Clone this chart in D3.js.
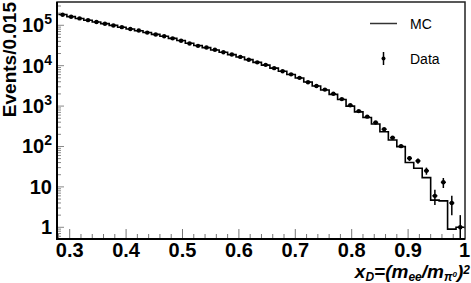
<!DOCTYPE html>
<html>
<head>
<meta charset="utf-8">
<script src="https://cdn.jsdelivr.net/npm/d3@7"></script>
<style>
  body { margin: 0; background: #fff; }
  svg { display: block; }
  text { font-family: "Liberation Sans", Arial, sans-serif; fill: #000; }
</style>
</head>
<body>
<div id="container"></div>
<script>
let w = 471;
let h = 283;

// histogram binning: 48 bins of 0.015 starting at 0.28
let binStart = 0.28;
let binWidth = 0.015;

// data counts per bin
let dataCounts = [183000, 163000, 148000, 134000, 121000, 109000, 99000, 90000, 81000, 74000,
  66000, 59000, 53500, 47500, 41500, 35500, 31000, 28100, 24900, 21500,
  18900, 16500, 14000, 12100, 10500, 8700, 7300, 6100, 5000, 3900,
  3150, 2560, 2020, 1490, 1050, 752, 547, 393, 268, 165,
  102, 51, 44, 25, 6, 13, 4, 1];

// MC expectation per bin
let mcCounts = [185000, 164000, 147000, 133000, 121000, 110000, 99500, 89500, 81000, 73500,
  66500, 59500, 53500, 47500, 42000, 36000, 31500, 28000, 24500, 21500,
  18800, 16400, 14100, 12100, 10300, 8700, 7300, 6050, 4950, 3950,
  3150, 2500, 1950, 1450, 1000, 720, 520, 360, 232, 145,
  99, 40, 29, 17, 4.7, 4.5, 0.9, 1.0];

let xTicks = [0.3, 0.4, 0.5, 0.6, 0.7, 0.8, 0.9, 1];
let xTickLabels = ["0.3", "0.4", "0.5", "0.6", "0.7", "0.8", "0.9", "1"];
let yTicks = [1, 10, 100, 1000, 10000, 100000];
let yTickExp = ["", "", "2", "3", "4", "5"];

let pLeft = 57, pRight = 465, pTop = 2, pBottom = 239;

let viz = d3.select("#container").append("svg")
  .attr("width", w)
  .attr("height", h);

let x = d3.scaleLinear().domain([0.2775, 1]).range([pLeft, 464.5]);
let y = d3.scaleLog().domain([0.513, 3.77e5]).range([pBottom, pTop]);

// clip
viz.append("clipPath").attr("id", "plotclip")
  .append("rect").attr("x", pLeft).attr("y", pTop).attr("width", pRight - pLeft).attr("height", pBottom - pTop);

// frame
viz.append("rect")
  .attr("x", pLeft).attr("y", pTop)
  .attr("width", pRight - pLeft).attr("height", pBottom - pTop)
  .attr("fill", "none").attr("stroke", "#222").attr("stroke-width", 1.5);

// x ticks (major every 0.1, minor every 0.02) pointing up
let xMinor = d3.range(14, 51).map(function (k) { return k * 0.02; });
viz.append("g").selectAll("line").data(xMinor).enter().append("line")
  .attr("x1", function (d) { return x(d); })
  .attr("x2", function (d) { return x(d); })
  .attr("y1", pBottom)
  .attr("y2", function (d) { return Math.abs(d * 10 - Math.round(d * 10)) < 1e-6 ? pBottom - 10 : pBottom - 5; })
  .attr("stroke", "#777").attr("stroke-width", 1);

// y ticks pointing right
let yMinor = [];
for (let e = -1; e <= 5; e++) {
  for (let m = 1; m <= 9; m++) {
    let v = m * Math.pow(10, e);
    if (v >= 0.513 && v <= 3.77e5) yMinor.push({ v: v, major: m === 1 });
  }
}
viz.append("g").selectAll("line").data(yMinor).enter().append("line")
  .attr("x1", pLeft)
  .attr("x2", function (d) { return d.major ? pLeft + 7 : pLeft + 4; })
  .attr("y1", function (d) { return y(d.v); })
  .attr("y2", function (d) { return y(d.v); })
  .attr("stroke", "#888").attr("stroke-width", 1);

// axis lines
viz.append("line").attr("x1", pLeft).attr("x2", pLeft).attr("y1", pTop).attr("y2", pBottom + 1)
  .attr("stroke", "#000").attr("stroke-width", 2);
viz.append("line").attr("x1", pLeft - 1).attr("x2", pRight).attr("y1", pBottom).attr("y2", pBottom)
  .attr("stroke", "#000").attr("stroke-width", 2);

// x tick labels
viz.append("g").selectAll("text").data(xTicks).enter().append("text")
  .attr("x", function (d) { return x(d); })
  .attr("y", 257)
  .attr("text-anchor", "middle")
  .attr("font-size", 20).attr("font-weight", "bold")
  .text(function (d, i) { return xTickLabels[i]; });

// y tick labels
let yLab = viz.append("g").selectAll("text").data(yTicks).enter().append("text")
  .attr("x", 52)
  .attr("y", function (d) { return y(d) + 7; })
  .attr("text-anchor", "end")
  .attr("font-size", 20).attr("font-weight", "bold");
yLab.append("tspan").text(function (d, i) { return yTickExp[i] === "" ? String(d) : "10"; });
yLab.append("tspan")
  .attr("font-size", 14)
  .attr("dy", -8)
  .text(function (d, i) { return yTickExp[i]; });

// y axis title
viz.append("text")
  .attr("transform", "translate(16," + pTop + ") rotate(-90)")
  .attr("text-anchor", "end")
  .attr("font-size", 19).attr("font-weight", "bold")
  .text("Events/0.015");

// x axis title
let xt = viz.append("text")
  .attr("x", 470).attr("y", 278)
  .attr("text-anchor", "end")
  .attr("font-size", 19).attr("font-style", "italic").attr("font-weight", "bold");
xt.append("tspan").text("x");
xt.append("tspan").attr("font-size", 12).attr("dy", 3).text("D");
xt.append("tspan").attr("dy", -3).text("=(m");
xt.append("tspan").attr("font-size", 12).attr("dy", 3).text("ee");
xt.append("tspan").attr("dy", -3).text("/m");
xt.append("tspan").attr("font-size", 12).attr("dy", 3).text("π");
xt.append("tspan").attr("font-size", 8).attr("dy", -4).text("0");
xt.append("tspan").attr("dy", 1).text(")");
xt.append("tspan").attr("font-size", 12).attr("dy", -4.5).text("2");

let plot = viz.append("g").attr("clip-path", "url(#plotclip)");

// MC step histogram
let mcPts = mcCounts.map(function (d, i) { return [binStart + i * binWidth, d]; });
mcPts.push([binStart + mcCounts.length * binWidth, mcCounts[mcCounts.length - 1]]);
let stepLine = d3.line()
  .x(function (d) { return x(d[0]); })
  .y(function (d) { return y(d[1]); })
  .curve(d3.curveStepAfter);
plot.append("path").datum(mcPts)
  .attr("d", stepLine)
  .attr("fill", "none").attr("stroke", "#000").attr("stroke-width", 1.6);

// data points with sqrt(N) error bars
let pts = plot.selectAll(".datagroup").data(dataCounts).enter().append("g")
  .attr("class", "datagroup")
  .attr("transform", function (d, i) {
    return "translate(" + x(binStart + (i + 0.5) * binWidth) + "," + y(d) + ")";
  });
pts.append("line")
  .attr("x1", 0).attr("x2", 0)
  .attr("y1", function (d) { return y(d + Math.sqrt(d)) - y(d); })
  .attr("y2", function (d) { return y(Math.max(d - Math.sqrt(d), 0.3)) - y(d); })
  .attr("stroke", "#000").attr("stroke-width", 1.5);
pts.append("line")
  .attr("x1", -2.5).attr("x2", 2.5).attr("y1", 0).attr("y2", 0)
  .attr("stroke", "#000").attr("stroke-width", 1.5);
pts.append("circle").attr("r", 2.2).attr("fill", "#000");

// legend
viz.append("line").attr("x1", 370).attr("x2", 397).attr("y1", 23.5).attr("y2", 23.5)
  .attr("stroke", "#333").attr("stroke-width", 1.5);
viz.append("text").attr("x", 410).attr("y", 28.5).attr("font-size", 14).text("MC");
viz.append("line").attr("x1", 383.5).attr("x2", 383.5).attr("y1", 52).attr("y2", 65)
  .attr("stroke", "#000").attr("stroke-width", 1.5);
viz.append("circle").attr("cx", 383.5).attr("cy", 58.5).attr("r", 2).attr("fill", "#000");
viz.append("text").attr("x", 410).attr("y", 63.5).attr("font-size", 14).text("Data");
</script>
</body>
</html>
